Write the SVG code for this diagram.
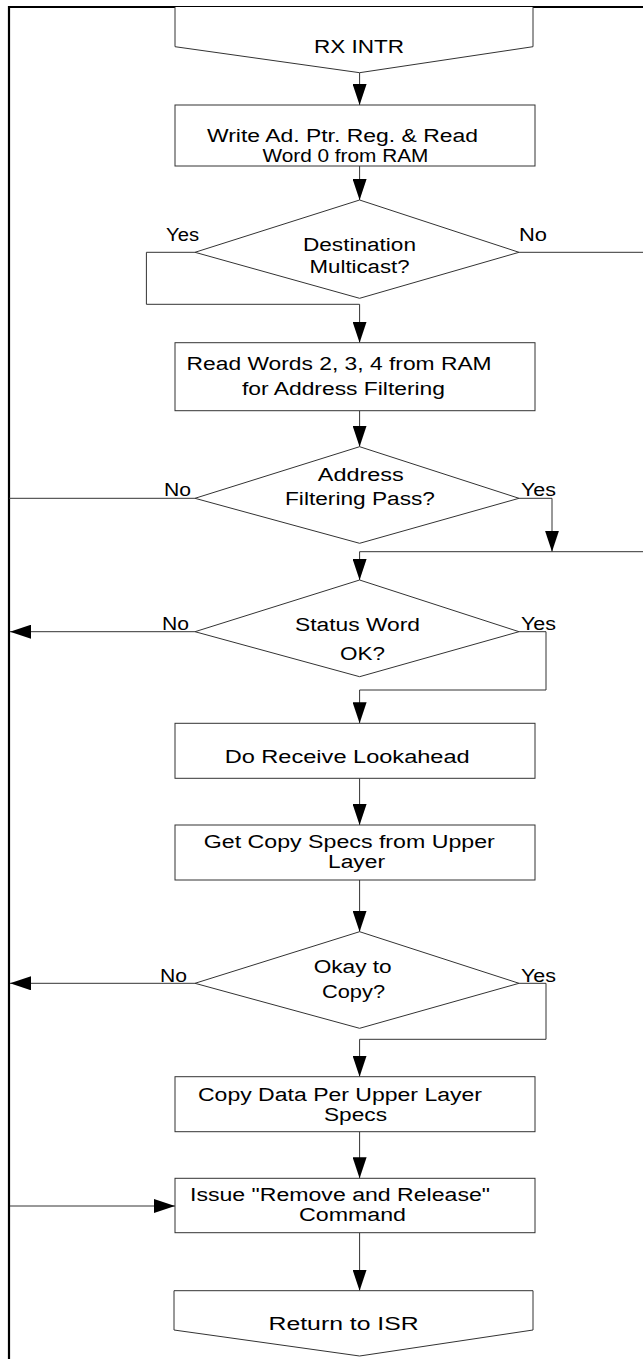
<svg xmlns="http://www.w3.org/2000/svg" width="643" height="1359" viewBox="0 0 643 1359">
<style>
.shape{fill:#fff;stroke:#333;stroke-width:1}
.line{fill:none;stroke:#333;stroke-width:1}
.frame{fill:none;stroke:#000;stroke-width:2.2}
text{font-family:"Liberation Sans",Arial,sans-serif;font-size:18px;fill:#000}
.m{text-anchor:middle}
</style>
<defs>
<marker id="ah" markerUnits="userSpaceOnUse" markerWidth="21" markerHeight="14" refX="21" refY="7" orient="auto">
<path d="M0,0 L21,7 L0,14 z" fill="#000"/>
</marker>
</defs>
<rect width="643" height="1359" fill="#fff"/>
<g id="connectors">
<path class="frame" d="M643,7 H9 V1359"/>
<path class="line" d="M359.6,72.7 V105" marker-end="url(#ah)"/>
<path class="line" d="M359.6,166 V200" marker-end="url(#ah)"/>
<path class="line" d="M195,252.3 H146.4 V304.3 H359.6 V342.7" marker-end="url(#ah)"/>
<path class="line" d="M519,252.3 H643"/>
<path class="line" d="M359.6,410.7 V446.7" marker-end="url(#ah)"/>
<path class="line" d="M195,498.3 H9"/>
<path class="line" d="M519,498.3 H552 V551.7" marker-end="url(#ah)"/>
<path class="line" d="M643,551.7 H359.6 V580" marker-end="url(#ah)"/>
<path class="line" d="M195,631.7 H10" marker-end="url(#ah)"/>
<path class="line" d="M519,631.7 H546 V690 H359.6 V723.3" marker-end="url(#ah)"/>
<path class="line" d="M359.6,778.3 V825" marker-end="url(#ah)"/>
<path class="line" d="M359.6,880 V931.7" marker-end="url(#ah)"/>
<path class="line" d="M195,983.3 H10" marker-end="url(#ah)"/>
<path class="line" d="M519,983.3 H546 V1039.3 H359.6 V1076.7" marker-end="url(#ah)"/>
<path class="line" d="M359.6,1131.7 V1178.3" marker-end="url(#ah)"/>
<path class="line" d="M10,1206 H175" marker-end="url(#ah)"/>
<path class="line" d="M359.6,1232.7 V1290.7" marker-end="url(#ah)"/>
</g>
<g id="n1">
<path class="shape" d="M175,7 V46.7 L359.6,72.7 L533,46.7 V7"/>
<text class="m" x="359" y="53" textLength="90" lengthAdjust="spacingAndGlyphs">RX INTR</text>
</g>
<g id="n2">
<rect class="shape" x="175" y="105" width="360" height="61"/>
<text x="207" y="141.5" textLength="271" lengthAdjust="spacingAndGlyphs">Write Ad. Ptr. Reg. &amp; Read</text>
<text x="262.4" y="161.5" textLength="166" lengthAdjust="spacingAndGlyphs">Word 0 from RAM</text>
</g>
<g id="n3">
<path class="shape" d="M359.6,200 L519,252.3 L359.6,298.3 L195,252.3 Z"/>
<text x="303" y="251" textLength="113" lengthAdjust="spacingAndGlyphs">Destination</text>
<text x="309.6" y="273" textLength="100" lengthAdjust="spacingAndGlyphs">Multicast?</text>
<text x="166" y="241" textLength="33" lengthAdjust="spacingAndGlyphs">Yes</text>
<text x="519" y="241" textLength="28" lengthAdjust="spacingAndGlyphs">No</text>
</g>
<g id="n4">
<rect class="shape" x="175" y="342.7" width="360" height="68"/>
<text x="186.6" y="369.7" textLength="305" lengthAdjust="spacingAndGlyphs">Read Words 2, 3, 4 from RAM</text>
<text x="242" y="394.7" textLength="203" lengthAdjust="spacingAndGlyphs">for Address Filtering</text>
</g>
<g id="n5">
<path class="shape" d="M359.6,446.7 L519,498.3 L359.6,543.3 L195,498.3 Z"/>
<text x="317.8" y="481" textLength="86" lengthAdjust="spacingAndGlyphs">Address</text>
<text x="285" y="505" textLength="150" lengthAdjust="spacingAndGlyphs">Filtering Pass?</text>
<text x="164" y="496" textLength="27" lengthAdjust="spacingAndGlyphs">No</text>
<text x="521" y="496" textLength="35" lengthAdjust="spacingAndGlyphs">Yes</text>
</g>
<g id="n6">
<path class="shape" d="M359.6,580 L519,631.7 L359.6,676.7 L195,631.7 Z"/>
<text x="295" y="631" textLength="125" lengthAdjust="spacingAndGlyphs">Status Word</text>
<text x="340" y="660" textLength="45" lengthAdjust="spacingAndGlyphs">OK?</text>
<text x="162" y="630" textLength="27" lengthAdjust="spacingAndGlyphs">No</text>
<text x="521" y="630" textLength="35" lengthAdjust="spacingAndGlyphs">Yes</text>
</g>
<g id="n7">
<rect class="shape" x="175" y="723.3" width="360" height="55"/>
<text x="224.7" y="763" textLength="245" lengthAdjust="spacingAndGlyphs">Do Receive Lookahead</text>
</g>
<g id="n8">
<rect class="shape" x="175" y="825" width="360" height="55"/>
<text x="203.8" y="848" textLength="291" lengthAdjust="spacingAndGlyphs">Get Copy Specs from Upper</text>
<text x="328" y="868" textLength="57" lengthAdjust="spacingAndGlyphs">Layer</text>
</g>
<g id="n9">
<path class="shape" d="M359.6,931.7 L519,983.3 L359.6,1028.3 L195,983.3 Z"/>
<text x="313.7" y="973" textLength="78" lengthAdjust="spacingAndGlyphs">Okay to</text>
<text x="322" y="998" textLength="63" lengthAdjust="spacingAndGlyphs">Copy?</text>
<text x="160" y="982" textLength="27" lengthAdjust="spacingAndGlyphs">No</text>
<text x="521" y="982" textLength="35" lengthAdjust="spacingAndGlyphs">Yes</text>
</g>
<g id="n10">
<rect class="shape" x="175" y="1076.7" width="360" height="55"/>
<text x="198" y="1101" textLength="284" lengthAdjust="spacingAndGlyphs">Copy Data Per Upper Layer</text>
<text x="324" y="1121" textLength="63" lengthAdjust="spacingAndGlyphs">Specs</text>
</g>
<g id="n11">
<rect class="shape" x="175" y="1178.3" width="360" height="54.4"/>
<text x="190" y="1201" textLength="300" lengthAdjust="spacingAndGlyphs">Issue "Remove and Release"</text>
<text x="299" y="1221" textLength="107" lengthAdjust="spacingAndGlyphs">Command</text>
</g>
<g id="n12">
<path class="shape" d="M174,1290.7 V1330 L359.6,1356 L533,1330 V1290.7 Z"/>
<text x="268.6" y="1330" textLength="150" lengthAdjust="spacingAndGlyphs">Return to ISR</text>
</g>
</svg>
